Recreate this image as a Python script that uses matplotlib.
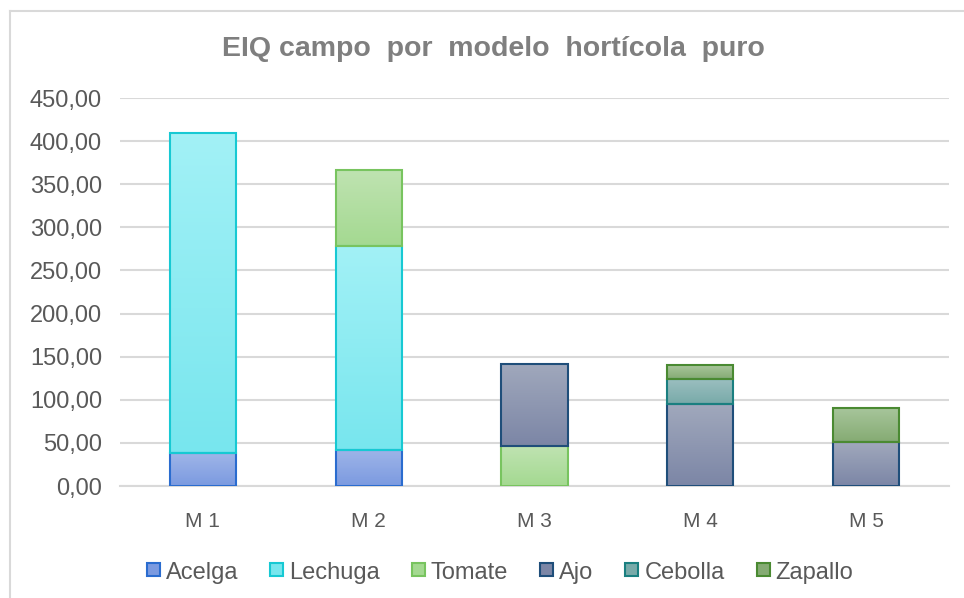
import numpy as np
import matplotlib
matplotlib.use("Agg")
import matplotlib.pyplot as plt
from matplotlib.colors import LinearSegmentedColormap
from matplotlib.patches import Rectangle
from matplotlib.lines import Line2D
from matplotlib.ticker import MultipleLocator, FuncFormatter

plt.rcParams['font.family'] = ['Liberation Sans', 'DejaVu Sans']

# datos
modelos = ['M 1', 'M 2', 'M 3', 'M 4', 'M 5']
acelga = [38, 42, 0, 0, 0]
lechuga = [371, 236, 0, 0, 0]
tomate = [0, 89, 46, 0, 0]
ajo = [0, 0, 96, 95, 51]
cebolla = [0, 0, 0, 29, 0]
zapallo = [0, 0, 0, 16, 40]

series = [
    ('Acelga', acelga, '#9fb5e8', '#7b9ae0', '#2a6ccf'),
    ('Lechuga', lechuga, '#a2f1f6', '#78e6ee', '#17c9d3'),
    ('Tomate', tomate, '#bfe3b1', '#a4d991', '#78c45f'),
    ('Ajo', ajo, '#a0a8bc', '#7c86a6', '#1f4e7a'),
    ('Cebolla', cebolla, '#9cbfc0', '#78aaa9', '#1a7f80'),
    ('Zapallo', zapallo, '#a8c69c', '#85ab73', '#4a8a32'),
]

W, H = 964, 598
fig = plt.figure(figsize=(W/100, H/100), dpi=100)
ax = fig.add_axes([120/W, 112/H, 829/W, 388/H])

x = np.arange(len(modelos))
width = 0.4
bottoms = np.zeros(len(modelos))
for name, vals, top_c, bot_c, edge in series:
    vals = np.array(vals, dtype=float)
    bars = ax.bar(x, vals, width, bottom=bottoms, facecolor='none',
                  edgecolor=edge, linewidth=1.5, zorder=3)
    cmap = LinearSegmentedColormap.from_list(name, [bot_c, top_c])
    for b in bars:
        if b.get_height() <= 0:
            b.set_visible(False)
            continue
        x0, y0 = b.get_x(), b.get_y()
        ax.imshow(np.linspace(0, 1, 64).reshape(-1, 1), cmap=cmap, origin='lower',
                  extent=[x0, x0 + b.get_width(), y0, y0 + b.get_height()],
                  aspect='auto', zorder=2, interpolation='bilinear')
    bottoms += vals

ax.set_xlim(-0.5, len(modelos) - 0.5)
ax.set_ylim(0, 450)
ax.yaxis.set_major_locator(MultipleLocator(50))
ax.yaxis.set_major_formatter(FuncFormatter(lambda v, p: f'{v:.2f}'.replace('.', ',')))
ax.set_xticks(x)
ax.set_xticklabels(modelos)
ax.grid(axis='y', color='#d9d9d9', linewidth=1.5, zorder=0)
ax.set_axisbelow(True)
for s in ['top', 'right', 'left']:
    ax.spines[s].set_visible(False)
ax.spines['bottom'].set_color('#d9d9d9')
ax.spines['bottom'].set_linewidth(1.5)
ax.tick_params(axis='y', length=0, labelsize=17, labelcolor='#595959', pad=13)
ax.tick_params(axis='x', length=0, labelsize=15, labelcolor='#595959', pad=19)

fig.text(0.512, 0.918, 'EIQ campo  por  modelo  hortícola  puro', ha='center', va='center',
         fontsize=20.5, fontweight='bold', color='#7f7f7f')

# leyenda a mano (fig.legend desalinea las etiquetas con descendentes)
renderer = fig.canvas.get_renderer()
sq, gap_txt, gap_col = 13, 6, 32
base_y = 579
txts, anchos = [], []
for name, vals, top_c, bot_c, edge in series:
    t = fig.text(0, 1 - base_y/H, name, fontsize=17, color='#595959', va='baseline')
    txts.append(t)
    anchos.append(t.get_window_extent(renderer).width)
total = sum(sq + gap_txt + w for w in anchos) + gap_col*(len(anchos) - 1)
xp = 500 - total/2
for (name, vals, top_c, bot_c, edge), t, w in zip(series, txts, anchos):
    fig.add_artist(Rectangle((xp/W, 1 - 576/H), sq/W, sq/H, transform=fig.transFigure,
                             facecolor=bot_c, edgecolor=edge, linewidth=1.5))
    t.set_x((xp + sq + gap_txt)/W)
    xp += sq + gap_txt + w + gap_col

# borde del grafico
fig.add_artist(Line2D([10/W, 10/W], [0, 1 - 11/H], transform=fig.transFigure,
                      color='#d9d9d9', linewidth=1.5))
fig.add_artist(Line2D([10/W, 1], [1 - 11/H, 1 - 11/H], transform=fig.transFigure,
                      color='#d9d9d9', linewidth=1.5))

fig.savefig('out.png', dpi=100)
